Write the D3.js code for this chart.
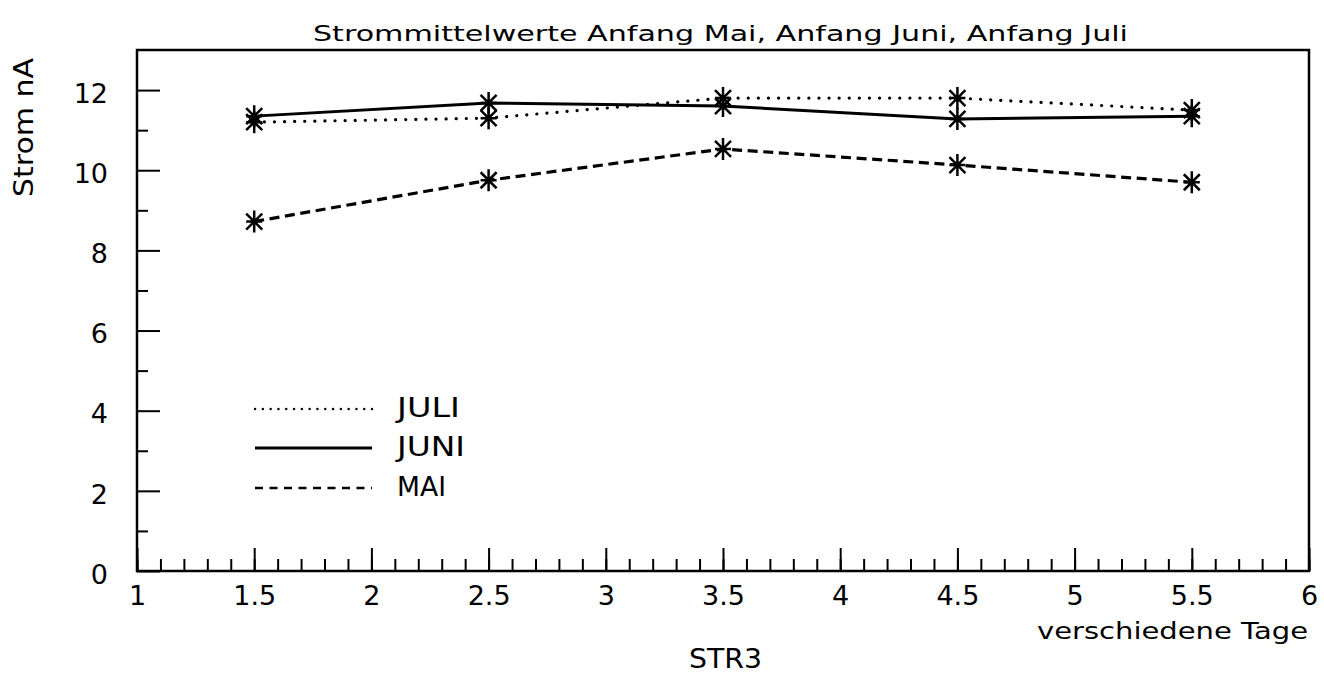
<!DOCTYPE html>
<html>
<head>
<meta charset="utf-8">
<script src="https://cdn.jsdelivr.net/npm/d3@7"></script>
<style>
  html, body { margin: 0; padding: 0; background: #fff; }
  svg { display: block; }
  text { font-family: "DejaVu Sans", sans-serif; fill: #000; }
</style>
</head>
<body>
<svg id="chart" width="1324" height="675"></svg>
<script>
// Measurement positions (days) and mean currents per month
const days = [1.5, 2.5, 3.5, 4.5, 5.5];
const juli = [11.2, 11.3, 11.8, 11.8, 11.5];
const juni = [11.35, 11.68, 11.6, 11.28, 11.35];
const mai  = [8.72, 9.75, 10.53, 10.13, 9.7];

const xTicks = [1, 1.5, 2, 2.5, 3, 3.5, 4, 4.5, 5, 5.5, 6];
const yTicks = [0, 2, 4, 6, 8, 10, 12];

const series = [
  { name: "JULI", values: juli, dash: "0.1 10", width: 3.2, cap: "round",
    legendDash: "0.1 7.7", legendWidth: 2.4, legendLen: 63 },
  { name: "JUNI", values: juni, dash: null, width: 3, cap: "butt",
    legendDash: null, legendWidth: 3, legendLen: 68 },
  { name: "MAI",  values: mai,  dash: "10 5.6", width: 3.2, cap: "butt",
    legendDash: "8 6.5", legendWidth: 2.5, legendLen: 49 }
];

const svg = d3.select("#chart");
const plotLeft = 137, plotRight = 1309, plotTop = 50, plotBottom = 571;

const x = d3.scaleLinear().domain([1, 6]).range([plotLeft, plotRight]);
const y = d3.scaleLinear().domain([0, 13]).range([plotBottom, plotTop]);

// Frame
svg.append("rect")
  .attr("x", plotLeft).attr("y", plotTop)
  .attr("width", plotRight - plotLeft).attr("height", plotBottom - plotTop)
  .attr("fill", "none").attr("stroke", "#000").attr("stroke-width", 2.5);

// X axis: minor ticks every 0.1, major every 0.5 (ticks point inward)
const xMinor = d3.range(10, 61).map(d => d / 10);
svg.append("g").attr("transform", `translate(0,${plotBottom})`)
  .call(d3.axisBottom(x).tickValues(xMinor).tickSize(-12).tickFormat(""))
  .call(g => g.select(".domain").remove())
  .call(g => g.selectAll("line").attr("stroke-width", 2));

svg.append("g").attr("transform", `translate(0,${plotBottom})`)
  .call(d3.axisBottom(x).tickValues(xTicks).tickSize(-23).tickPadding(34).tickFormat(d => String(d)))
  .call(g => g.select(".domain").remove())
  .call(g => g.selectAll("line").attr("stroke-width", 2))
  .call(g => g.selectAll("text").attr("font-size", 27).attr("dy", 0));

// Y axis: minor ticks every 1, major every 2
const yMinor = d3.range(1, 13, 2);
svg.append("g").attr("transform", `translate(${plotLeft},0)`)
  .call(d3.axisLeft(y).tickValues(yMinor).tickSize(-11).tickFormat(""))
  .call(g => g.select(".domain").remove())
  .call(g => g.selectAll("line").attr("stroke-width", 2));

svg.append("g").attr("transform", `translate(${plotLeft},0)`)
  .call(d3.axisLeft(y).tickValues(yTicks).tickSize(-23).tickPadding(29).tickFormat(d3.format("d")))
  .call(g => g.select(".domain").remove())
  .call(g => g.selectAll("line").attr("stroke-width", 2))
  .call(g => g.selectAll("text").attr("font-size", 27).attr("dy", "0.45em"));

// Series lines
const line = d3.line().x((d, i) => x(days[i])).y(d => y(d));
series.forEach(s => {
  svg.append("path")
    .datum(s.values)
    .attr("d", line)
    .attr("fill", "none")
    .attr("stroke", "#000")
    .attr("stroke-width", s.width)
    .attr("stroke-linecap", s.cap)
    .attr("stroke-dasharray", s.dash);
});

// Asterisk markers
const star = "M0,-11L0,11M-8,-8L8,8M-8,8L8,-8M-8,0L8,0";
series.forEach(s => {
  svg.append("g").selectAll("path")
    .data(s.values)
    .join("path")
    .attr("transform", (d, i) => `translate(${x(days[i])},${y(d)})`)
    .attr("d", star)
    .attr("fill", "none")
    .attr("stroke", "#000")
    .attr("stroke-width", 2.5);
});

// Legend
const legend = svg.append("g");
const legendY = [409, 448, 488];
series.forEach((s, i) => {
  legend.append("line")
    .attr("x1", 255).attr("x2", 372)
    .attr("y1", legendY[i]).attr("y2", legendY[i])
    .attr("stroke", "#000")
    .attr("stroke-width", s.legendWidth)
    .attr("stroke-linecap", s.cap)
    .attr("stroke-dasharray", s.legendDash);
  legend.append("text")
    .attr("x", 397).attr("y", legendY[i] + 8)
    .attr("font-size", 26)
    .attr("textLength", s.legendLen)
    .attr("lengthAdjust", "spacingAndGlyphs")
    .text(s.name);
});

// Titles
svg.append("text")
  .attr("x", 313).attr("y", 41)
  .attr("font-size", 22)
  .attr("textLength", 815)
  .attr("lengthAdjust", "spacingAndGlyphs")
  .text("Strommittelwerte  Anfang Mai, Anfang Juni, Anfang Juli");

svg.append("text")
  .attr("transform", "translate(33,197) rotate(-90)")
  .attr("font-size", 27)
  .attr("textLength", 139)
  .attr("lengthAdjust", "spacingAndGlyphs")
  .text("Strom nA");

svg.append("text")
  .attr("x", 1037).attr("y", 639)
  .attr("font-size", 23)
  .attr("textLength", 271)
  .attr("lengthAdjust", "spacingAndGlyphs")
  .text("verschiedene Tage");

svg.append("text")
  .attr("x", 689).attr("y", 668)
  .attr("font-size", 26)
  .attr("textLength", 73)
  .attr("lengthAdjust", "spacingAndGlyphs")
  .text("STR3");
</script>
</body>
</html>
